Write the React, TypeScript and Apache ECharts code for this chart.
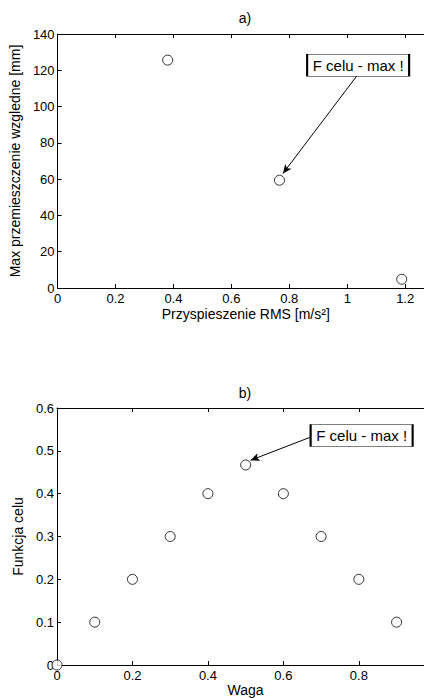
import React, { useEffect, useRef } from "react";
import * as echarts from "echarts";

// Chart a) data
const accelRms = [0.38, 0.766, 1.188];
const maxDisplacement = [125.6, 59.4, 4.8];
// Chart b) data
const weights = [0, 0.1, 0.2, 0.3, 0.4, 0.5, 0.6, 0.7, 0.8, 0.9];
const objective = [0, 0.1, 0.2, 0.3, 0.4, 0.467, 0.4, 0.3, 0.2, 0.1];

const annotText = "F celu - max !";
// annotation anchors in data coordinates
const annotA = { box: [1.0376, 122.8], from: [1.033, 116.9], to: [0.778, 63.1] };
const annotB = { box: [0.8074, 0.5356], from: [0.675, 0.533], to: [0.513, 0.478] };

const FONT = "Liberation Sans, Arial, Helvetica, sans-serif";

export default function App() {
  const ref = useRef<HTMLDivElement>(null);
  useEffect(() => {
    if (!ref.current) return;
    const chart = echarts.init(ref.current, null, { renderer: "svg" });
    const axisLine = { show: true, lineStyle: { color: "#000", width: 1 } };
    const axisTick = { show: true, inside: true, length: 4, lineStyle: { color: "#000", width: 1 } };
    const label = { color: "#000", fontSize: 13, fontFamily: FONT };
    const nameStyle = { color: "#000", fontSize: 14, fontFamily: FONT };

    const xBottom = (grid: number, max: number, name: string, gap: number) => ({
      type: "value",
      gridIndex: grid,
      position: "bottom",
      min: 0,
      max,
      interval: 0.2,
      axisLine,
      axisTick,
      splitLine: { show: false },
      axisLabel: { ...label, margin: 4, showMaxLabel: false },
      name,
      nameLocation: "middle",
      nameGap: gap,
      nameTextStyle: { ...nameStyle, padding: [0, 0, 0, 10] },
    });
    const xTop = (grid: number, max: number) => ({
      type: "value",
      gridIndex: grid,
      position: "top",
      min: 0,
      max,
      interval: 0.2,
      axisLine,
      axisTick,
      splitLine: { show: false },
      axisLabel: { show: false },
    });

    const markerStyle = {
      symbol: "circle",
      symbolSize: 10,
      itemStyle: { color: "#fff", borderColor: "#000", borderWidth: 1 },
    };

    const markLine = (a: any) => ({
      silent: true,
      animation: false,
      symbol: ["none", "arrow"],
      symbolSize: [6, 9],
      label: { show: false },
      lineStyle: { color: "#000", width: 1, type: "solid" },
      data: [[{ coord: a.from }, { coord: a.to }]],
    });
    const markPoint = (a: any) => ({
      silent: true,
      animation: false,
      symbol: "rect",
      symbolSize: [102, 22],
      itemStyle: { color: "#fff", borderColor: "#000", borderWidth: 1 },
      label: { show: true, position: "inside", color: "#000", fontSize: 15, fontFamily: FONT, formatter: annotText },
      data: [{ coord: a.box }],
    });

    chart.setOption({
      animation: false,
      backgroundColor: "#fff",
      grid: [
        { left: 57, top: 34, width: 367, height: 254 },
        { left: 57, top: 408, width: 367, height: 258 },
      ],
      xAxis: [
        xBottom(0, 1.265, "Przyspieszenie RMS [m/s²]", 19),
        xTop(0, 1.265),
        xBottom(1, 0.9727, "Waga", 18),
        xTop(1, 0.9727),
      ],
      yAxis: [
        {
          type: "value",
          gridIndex: 0,
          min: 0,
          max: 140,
          interval: 20,
          axisLine,
          axisTick,
          splitLine: { show: false },
          axisLabel: { ...label, margin: 3 },
          name: "Max przemieszczenie wzgledne [mm]",
          nameLocation: "middle",
          nameRotate: 90,
          nameGap: 34,
          nameTextStyle: nameStyle,
        },
        {
          type: "value",
          gridIndex: 1,
          min: 0,
          max: 0.6,
          interval: 0.1,
          axisLine,
          axisTick,
          splitLine: { show: false },
          axisLabel: { ...label, margin: 3 },
          name: "Funkcja celu",
          nameLocation: "middle",
          nameRotate: 90,
          nameGap: 30,
          nameTextStyle: nameStyle,
        },
      ],
      graphic: [
        { type: "text", x: 245, y: 18, style: { text: "a)", fill: "#000", font: `14px ${FONT}`, textAlign: "center", textVerticalAlign: "middle" } },
        { type: "text", x: 245, y: 393, style: { text: "b)", fill: "#000", font: `14px ${FONT}`, textAlign: "center", textVerticalAlign: "middle" } },
      ],
      series: [
        {
          type: "scatter",
          xAxisIndex: 0,
          yAxisIndex: 0,
          clip: false,
          ...markerStyle,
          data: accelRms.map((x, i) => [x, maxDisplacement[i]]),
          markLine: markLine(annotA),
          markPoint: markPoint(annotA),
        },
        {
          type: "scatter",
          xAxisIndex: 2,
          yAxisIndex: 1,
          clip: false,
          ...markerStyle,
          data: weights.map((x, i) => [x, objective[i]]),
          markLine: markLine(annotB),
          markPoint: markPoint(annotB),
        },
      ],
    });
    return () => chart.dispose();
  }, []);
  return <div ref={ref} style={{ position: "fixed", left: 0, top: 0, width: 424, height: 698 }} />;
}
